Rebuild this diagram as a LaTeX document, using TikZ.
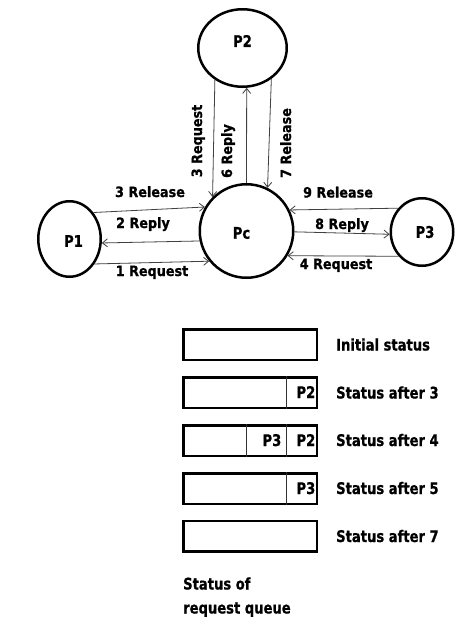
\documentclass[tikz,border=0pt]{standalone}
\usepackage{fontspec}
\setmainfont{DejaVu Sans}[FakeStretch=0.9]
\newfontfamily\statfam{DejaVu Sans}[FakeStretch=0.82,BoldFeatures={FakeBold=0.8}]
\newfontfamily\lblfam{DejaVu Sans}[FakeStretch=0.9,BoldFeatures={FakeBold=0.8}]
\usetikzlibrary{shapes.geometric,arrows.meta}
\begin{document}
\begin{tikzpicture}[x=1pt,y=-1pt,
  pfont/.style={font=\statfam\bfseries\fontsize{16}{19}\selectfont},
  proc/.style={ellipse,draw,line width=2.5pt,inner sep=0pt},
  arr/.style={draw=black!75,line width=0.8pt,-{Straight Barb[length=5pt,width=8pt]}},
  lbl/.style={font=\lblfam\bfseries\fontsize{14.2}{17}\selectfont,inner sep=0pt,anchor=base},
  stat/.style={pfont,inner sep=0pt,anchor=base west},
  qbox/.style={draw,line width=2.5pt,minimum width=133.5pt,minimum height=30.5pt,inner sep=0pt},
  cell/.style={pfont,inner sep=0pt,anchor=base east},
  divider/.style={line width=0.8pt,draw=black!80}]
\useasboundingbox[fill=white] (0,0) rectangle (465,626);

% processes
\node[proc,minimum width=88.5pt,minimum height=77.5pt,label={[pfont,yshift=7pt]center:P2}] (P2) at (242.5,48) {};
\node[proc,minimum width=93.5pt,minimum height=93.5pt,label={[pfont,xshift=-5pt,yshift=-2pt]center:Pc}] (Pc) at (246.5,231) {};
\node[proc,minimum width=62.5pt,minimum height=75.5pt,label={[pfont,xshift=4pt,yshift=-2pt]center:P1}] (P1) at (69.5,239) {};
\node[proc,minimum width=62.5pt,minimum height=67.5pt,label={[pfont,xshift=3pt]center:P3}] (P3) at (422,232) {};

% messages
\draw[arr] (P1.48) -- (Pc.150);
\draw[arr] (Pc.192) -- (P1.-7);
\draw[arr] (P1.-45) -- (Pc.219);
\draw[arr] (P3.135) -- (Pc.26);
\draw[arr] (Pc.-1) -- (P3.184);
\draw[arr] (P3.226) -- (Pc.-31);
\draw[arr] (P2.229) -- (Pc.135);
\draw[arr] (Pc.90) -- (P2.-84);
\draw[arr] (P2.-47) -- (Pc.64);

% message labels
\node[lbl] (l3rel) at (150,197) {3 Release};
\node[lbl] (l2rep) at (143,228) {2 Reply};
\node[lbl] (l1req) at (152,276) {1 Request};
\node[lbl] (l9rel) at (338,197.5) {9 Release};
\node[lbl] (l8rep) at (342,229) {8 Reply};
\node[lbl] (l4req) at (336,269) {4 Request};
\node[lbl,rotate=90] (l3req) at (202,141) {3 Request};
\node[lbl,rotate=90] (l6rep) at (232,151) {6 Reply};
\node[lbl,rotate=90] (l7rel) at (291,143) {7 Release};

% request queue
\node[qbox] (q1) at (250,344.5) {};
\node[qbox] (q2) at (250,392.5) {};
\node[qbox] (q3) at (250,440.5) {};
\node[qbox] (q4) at (250,488.5) {};
\node[qbox] (q5) at (250,536) {};

\draw[divider] ([xshift=-31.5pt]q2.north east) -- ([xshift=-31.5pt]q2.south east);
\draw[divider] ([xshift=-31.5pt]q3.north east) -- ([xshift=-31.5pt]q3.south east);
\draw[divider] ([xshift=-71.5pt]q3.north east) -- ([xshift=-71.5pt]q3.south east);
\draw[divider] ([xshift=-31.5pt]q4.north east) -- ([xshift=-31.5pt]q4.south east);

\node[cell] (c2a) at (315.5,398) {P2};
\node[cell] (c3a) at (281.5,446) {P3};
\node[cell] (c3b) at (315.5,446) {P2};
\node[cell] (c4a) at (315.5,494) {P3};

\node[stat] (s1) at (336,350.5) {Initial status};
\node[stat] (s2) at (336,398.5) {Status after 3};
\node[stat] (s3) at (336,446) {Status after 4};
\node[stat] (s4) at (336,494) {Status after 5};
\node[stat] (s5) at (336,542) {Status after 7};

\node[stat] (cap1) at (183,589.5) {Status of};
\node[stat] (cap2) at (183,613.5) {request queue};
\end{tikzpicture}
\end{document}
